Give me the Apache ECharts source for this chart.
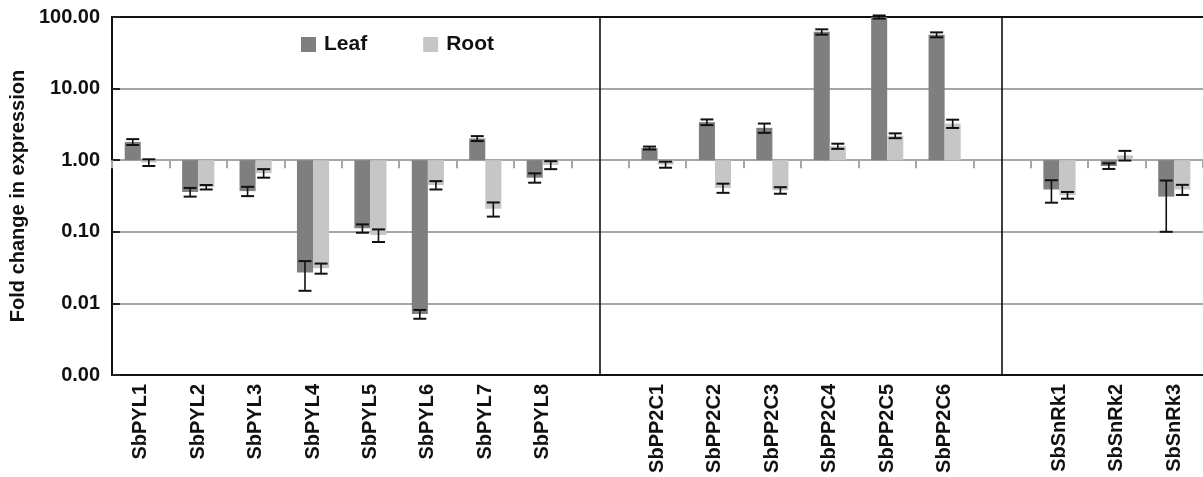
<!DOCTYPE html>
<html>
<head>
<meta charset="utf-8">
<script src="https://cdn.jsdelivr.net/npm/echarts@6/dist/echarts.min.js"></script>
<style>html,body{margin:0;padding:0;background:#fff;}#c{width:1203px;height:477px;}</style>
</head>
<body>
<div id="c"></div>
<script>
const categories = ['SbPYL1','SbPYL2','SbPYL3','SbPYL4','SbPYL5','SbPYL6','SbPYL7','SbPYL8','',
  'SbPP2C1','SbPP2C2','SbPP2C3','SbPP2C4','SbPP2C5','SbPP2C6','',
  'SbSnRk1','SbSnRk2','SbSnRk3'];
const leafValues = [1.80, 0.36, 0.37, 0.027, 0.112, 0.0071, 2.01, 0.57, null,
  1.48, 3.4, 2.83, 62, 100, 56.5, null,
  0.39, 0.83, 0.31];
const leafErrors = [0.17, 0.05, 0.055, 0.012, 0.015, 0.001, 0.16, 0.085, null,
  0.07, 0.31, 0.42, 5.3, 5, 4.5, null,
  0.135, 0.075, 0.21];
const rootValues = [0.93, 0.42, 0.66, 0.031, 0.09, 0.45, 0.21, 0.86, null,
  0.87, 0.41, 0.38, 1.57, 2.2, 3.25, null,
  0.325, 1.17, 0.39];
const rootErrors = [0.10, 0.03, 0.09, 0.005, 0.018, 0.06, 0.047, 0.11, null,
  0.085, 0.06, 0.04, 0.13, 0.17, 0.43, null,
  0.035, 0.18, 0.063];
const separatorIndices = [8, 15];
const yTicks = [0.001, 0.01, 0.1, 1, 10, 100];

const FONT = 'Liberation Sans, Arial, Helvetica, sans-serif';
const BAR_FRAC = 0.28;

function errData(vals, errs) {
  const out = [];
  vals.forEach((v, i) => { if (v != null) out.push([i, v, errs[i]]); });
  return out;
}

function errRender(side) {
  return function (params, api) {
    const i = api.value(0), v = api.value(1), e = api.value(2);
    const p0 = api.coord([i, v]);
    const p1 = api.coord([i + 1, v]);
    const band = p1[0] - p0[0];
    const x = p0[0] + side * band * BAR_FRAC / 2;
    const yTop = api.coord([i, v + e])[1];
    const yBot = api.coord([i, Math.max(v - e, 1e-5)])[1];
    const cap = 6.5;
    const st = { stroke: '#111', lineWidth: 2 };
    return {
      type: 'group',
      children: [
        { type: 'line', shape: { x1: x, y1: yTop, x2: x, y2: yBot }, style: { stroke: '#111', lineWidth: 1.6 } },
        { type: 'line', shape: { x1: x - cap, y1: yTop, x2: x + cap, y2: yTop }, style: st },
        { type: 'line', shape: { x1: x - cap, y1: yBot, x2: x + cap, y2: yBot }, style: st }
      ]
    };
  };
}

const chart = echarts.init(document.getElementById('c'), null, { renderer: 'canvas' });
const GRID_TOP = 17;
const option = {
  animation: false,
  backgroundColor: '#fff',
  textStyle: { fontFamily: FONT },
  grid: { left: 112, right: 0, top: GRID_TOP, bottom: 102, containLabel: false },
  legend: {
    data: ['Leaf', 'Root'],
    left: 296, top: 29,
    icon: 'rect', itemWidth: 15, itemHeight: 15, itemGap: 56,
    textStyle: { fontFamily: FONT, fontSize: 21, fontWeight: 'bold', color: '#111', padding: [0, 0, 0, 3] }
  },
  xAxis: [
    {
      type: 'category', data: categories, position: 'bottom',
      axisLine: { lineStyle: { color: '#111', width: 2 } },
      axisTick: { show: false },
      axisLabel: { rotate: 90, interval: 0, margin: 9, fontFamily: FONT, fontSize: 20, fontWeight: 'bold', color: '#111' },
      splitLine: { show: false }
    },
    {
      type: 'category', data: categories, position: 'top',
      axisLine: { lineStyle: { color: '#111', width: 2 } },
      axisTick: { show: false }, axisLabel: { show: false }, splitLine: { show: false }
    },
    {
      type: 'category', data: categories, position: 'top', offset: 0,
      axisLine: { show: false },
      axisTick: { show: true, inside: true, length: 8, interval: 0, lineStyle: { color: '#a6a6a6', width: 2 } },
      axisLabel: { show: false }, splitLine: { show: false }
    }
  ],
  yAxis: {
    type: 'log', logBase: 10, min: yTicks[0], max: yTicks[yTicks.length - 1],
    name: 'Fold change in expression', nameLocation: 'middle', nameGap: 76, nameRotate: 90,
    nameTextStyle: { fontFamily: FONT, fontSize: 20, fontWeight: 'bold', color: '#111' },
    axisLine: { show: true, lineStyle: { color: '#111', width: 2 } },
    axisTick: { show: true, inside: true, length: 8, lineStyle: { color: '#222', width: 2 } },
    axisLabel: { fontFamily: FONT, fontSize: 20, fontWeight: 'bold', color: '#111', margin: 12,
      formatter: v => Number(v).toFixed(2) },
    splitLine: { show: true, lineStyle: { color: '#a6a6a6', width: 2 } }
  },
  series: [
    {
      name: 'Leaf', type: 'bar', xAxisIndex: 0, data: leafValues.map(v => v == null ? '-' : v),
      barWidth: (BAR_FRAC * 100) + '%', barGap: '0%',
      itemStyle: { color: '#7f7f7f' }
    },
    {
      name: 'Root', type: 'bar', xAxisIndex: 0, data: rootValues.map(v => v == null ? '-' : v),
      barWidth: (BAR_FRAC * 100) + '%', barGap: '0%',
      itemStyle: { color: '#c6c6c6' }
    },
    {
      name: 'LeafErr', type: 'custom', xAxisIndex: 0, renderItem: errRender(-1),
      data: errData(leafValues, leafErrors), encode: { x: 0, y: 1 }, z: 5, silent: true,
      markLine: {
        silent: true, symbol: ['none', 'none'], label: { show: false },
        lineStyle: { color: '#111', width: 1.6, type: 'solid' },
        data: separatorIndices.map(i => ({ xAxis: i }))
      }
    },
    {
      name: 'RootErr', type: 'custom', xAxisIndex: 0, renderItem: errRender(1),
      data: errData(rootValues, rootErrors), encode: { x: 0, y: 1 }, z: 5, silent: true
    }
  ]
};
chart.setOption(option);
const yOne = chart.convertToPixel({ yAxisIndex: 0 }, 1);
chart.setOption({ xAxis: [{}, {}, { offset: -(yOne - GRID_TOP) }] });
</script>
</body>
</html>
